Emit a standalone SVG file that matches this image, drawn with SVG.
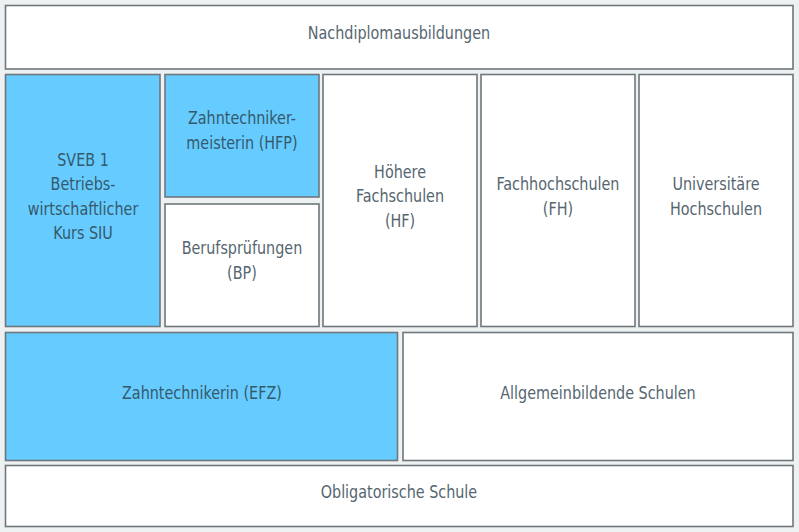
<svg xmlns="http://www.w3.org/2000/svg" width="799" height="532" viewBox="0 0 799 532">
<style>
.bg{fill:#eef1f2}
.box{fill:#ffffff;stroke:#6e777c;stroke-width:1.6}
.blue{fill:#66ccff;stroke:#6e777c;stroke-width:1.6}
text{font-family:"DejaVu Sans Condensed","Liberation Sans",sans-serif;font-size:18px;fill:#566670;text-anchor:middle}
.on{fill:#35596c}
</style>
<rect class="bg" x="0" y="0" width="799" height="532"/>
<g id="nachdiplom"><rect class="box" x="5.5" y="5.5" width="787.5" height="63.5"/><text transform="scale(0.887,1)" x="449.8" y="39">Nachdiplomausbildungen</text></g>
<g id="sveb"><rect class="blue" x="5.5" y="74.5" width="154.5" height="252"/><g transform="scale(0.887,1)"><text class="on" x="93.6" y="166">SVEB 1</text><text class="on" x="93.6" y="190">Betriebs-</text><text class="on" x="93.6" y="215">wirtschaftlicher</text><text class="on" x="93.6" y="239">Kurs SIU</text></g></g>
<g id="hfp"><rect class="blue" x="165" y="74.5" width="154" height="122.5"/><g transform="scale(0.887,1)"><text class="on" x="272.8" y="124">Zahntechniker-</text><text class="on" x="272.8" y="149">meisterin (HFP)</text></g></g>
<g id="bp"><rect class="box" x="165" y="204" width="154" height="122.5"/><g transform="scale(0.887,1)"><text x="272.8" y="254">Berufsprüfungen</text><text x="272.8" y="279">(BP)</text></g></g>
<g id="hf"><rect class="box" x="323" y="74.5" width="154" height="252"/><g transform="scale(0.887,1)"><text x="451" y="178">Höhere</text><text x="451" y="202">Fachschulen</text><text x="451" y="227">(HF)</text></g></g>
<g id="fh"><rect class="box" x="481" y="74.5" width="154" height="252"/><g transform="scale(0.887,1)"><text x="629.1" y="190">Fachhochschulen</text><text x="629.1" y="215">(FH)</text></g></g>
<g id="uni"><rect class="box" x="639" y="74.5" width="154" height="252"/><g transform="scale(0.887,1)"><text x="807.2" y="190">Universitäre</text><text x="807.2" y="215">Hochschulen</text></g></g>
<g id="efz"><rect class="blue" x="5.5" y="332.5" width="392" height="128"/><text class="on" transform="scale(0.887,1)" x="227.7" y="399">Zahntechnikerin (EFZ)</text></g>
<g id="allg"><rect class="box" x="403" y="332.5" width="390" height="128"/><text transform="scale(0.887,1)" x="674.2" y="399">Allgemeinbildende Schulen</text></g>
<g id="oblig"><rect class="box" x="5.5" y="465.5" width="787.5" height="61"/><text transform="scale(0.887,1)" x="449.8" y="498">Obligatorische Schule</text></g>
<g id="connectors"/>
</svg>
